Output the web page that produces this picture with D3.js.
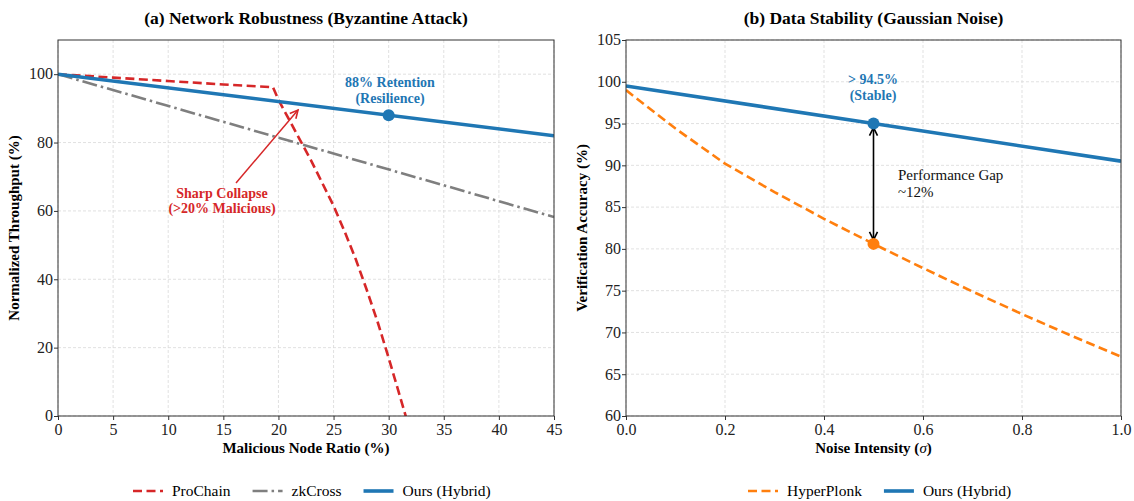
<!DOCTYPE html>
<html>
<head>
<meta charset="utf-8">
<script src="https://cdn.jsdelivr.net/npm/d3@7"></script>
<style>
  body { margin: 0; background: #fff; }
  svg { font-family: "Liberation Serif", "DejaVu Serif", serif; }
</style>
</head>
<body>
<svg class="canvas" width="1134" height="501"></svg>
<script>
// ---- data: panel (a) ----
const ratioTicks = [0, 5, 10, 15, 20, 25, 30, 35, 40, 45];
const throughputTicks = [0, 20, 40, 60, 80, 100];
const proChainX = [0, 5, 10, 15, 19.5, 20, 21, 22, 23, 24, 25, 26, 27, 28, 29, 30, 31, 32];
const proChainY = [100, 99, 98, 97, 96.2, 92.5, 86.5, 80.5, 74.5, 68, 61.5, 54, 46, 37, 27.5, 17, 6, -5];
const zkCrossX = [0, 45];
const zkCrossY = [100, 58.2];
const oursAX = [0, 45];
const oursAY = [100, 82];
const retentionPoint = [30, 88];

// ---- data: panel (b) ----
const noiseTicks = [0, 0.2, 0.4, 0.6, 0.8, 1.0];
const accuracyTicks = [60, 65, 70, 75, 80, 85, 90, 95, 100, 105];
const hyperPlonkX = [0, 0.1, 0.2, 0.3, 0.4, 0.5, 0.6, 0.7, 0.8, 0.9, 1.0];
const hyperPlonkY = [99, 94.4, 90.2, 86.8, 83.6, 80.6, 77.7, 74.9, 72.2, 69.6, 67.1];
const oursBX = [0, 0.5, 1.0];
const oursBY = [99.5, 95, 90.5];
const gapTop = [0.5, 95];
const gapBottom = [0.5, 80.6];

const BLUE = "#1f77b4", RED = "#d62728", GRAY = "#7f7f7f", ORANGE = "#ff7f0e";

const svg = d3.select(".canvas");
const defs = svg.append("defs");

function arrowMarker(id, color) {
  const m = defs.append("marker")
    .attr("id", id)
    .attr("viewBox", "-10 -6 12 12")
    .attr("refX", 0).attr("refY", 0)
    .attr("markerWidth", 12).attr("markerHeight", 12)
    .attr("markerUnits", "userSpaceOnUse")
    .attr("orient", "auto-start-reverse");
  m.append("path")
    .attr("d", "M-8,-4 L0,0 L-8,4")
    .attr("fill", "none")
    .attr("stroke", color)
    .attr("stroke-width", 1.6);
}
arrowMarker("arrRed", RED);
arrowMarker("arrBlack", "#000");

function panel(opt) {
  const g = svg.append("g");
  const x = d3.scaleLinear().domain(opt.xDomain).range([opt.left, opt.right]);
  const y = d3.scaleLinear().domain(opt.yDomain).range([opt.bottom, opt.top]);

  // grid
  g.append("g").selectAll("line").data(opt.xTicks).join("line")
    .attr("x1", d => x(d)).attr("x2", d => x(d))
    .attr("y1", opt.top).attr("y2", opt.bottom)
    .attr("stroke", "#d9d9d9").attr("stroke-width", 0.8).attr("stroke-dasharray", "3,2");
  g.append("g").selectAll("line").data(opt.yTicks).join("line")
    .attr("y1", d => y(d)).attr("y2", d => y(d))
    .attr("x1", opt.left).attr("x2", opt.right)
    .attr("stroke", "#d9d9d9").attr("stroke-width", 0.8).attr("stroke-dasharray", "3,2");

  // clip for series
  defs.append("clipPath").attr("id", opt.id + "clip")
    .append("rect")
    .attr("x", opt.left).attr("y", opt.top)
    .attr("width", opt.right - opt.left).attr("height", opt.bottom - opt.top);
  const plot = g.append("g").attr("clip-path", `url(#${opt.id}clip)`);
  const line = d3.line().x(d => x(d[0])).y(d => y(d[1]));
  opt.series.forEach(s => {
    plot.append("path")
      .datum(d3.zip(s.xs, s.ys))
      .attr("d", line)
      .attr("fill", "none")
      .attr("stroke", s.color)
      .attr("stroke-width", s.width)
      .attr("stroke-dasharray", s.dash || null);
  });

  // axes
  const xAxis = g.append("g").attr("transform", `translate(0,${opt.bottom})`)
    .call(d3.axisBottom(x).tickValues(opt.xTicks).tickFormat(opt.xFormat).tickSizeOuter(0).tickSize(4));
  const yAxis = g.append("g").attr("transform", `translate(${opt.left},0)`)
    .call(d3.axisLeft(y).tickValues(opt.yTicks).tickFormat(d3.format("d")).tickSizeOuter(0).tickSize(4));
  [xAxis, yAxis].forEach(a => {
    a.select(".domain").remove();
    a.selectAll("line").attr("stroke", "#333");
    a.selectAll("text").attr("font-size", 16).attr("fill", "#222")
      .attr("font-family", "Liberation Serif, serif");
  });
  xAxis.selectAll("text").attr("dy", "0.85em").attr("y", 5);
  yAxis.selectAll("text").attr("x", -5).attr("dy", "0.3em");

  // frame
  g.append("rect")
    .attr("x", opt.left).attr("y", opt.top)
    .attr("width", opt.right - opt.left).attr("height", opt.bottom - opt.top)
    .attr("fill", "none").attr("stroke", "#333").attr("stroke-width", 1);

  // title and labels
  const cx = (opt.left + opt.right) / 2;
  g.append("text").attr("x", cx).attr("y", 24).attr("text-anchor", "middle")
    .attr("font-size", 17.5).attr("font-weight", "bold").text(opt.title);
  const xl = g.append("text").attr("x", cx).attr("y", 453).attr("text-anchor", "middle")
    .attr("font-size", 15).attr("font-weight", "bold");
  opt.xLabel(xl);
  g.append("text")
    .attr("transform", `translate(${opt.left - 39},${(opt.top + opt.bottom) / 2}) rotate(-90)`)
    .attr("text-anchor", "middle").attr("font-size", 15).attr("font-weight", "bold")
    .text(opt.yLabel);

  // legend
  let lx = opt.legendX;
  opt.series.forEach(s => {
    g.append("line")
      .attr("x1", lx).attr("x2", lx + 30).attr("y1", 491).attr("y2", 491)
      .attr("stroke", s.color).attr("stroke-width", s.width)
      .attr("stroke-dasharray", s.dash || null);
    const t = g.append("text").attr("x", lx + 39).attr("y", 496)
      .attr("font-size", 15.5).text(s.name);
    lx += 39 + t.node().getComputedTextLength() + 22;
  });

  return { g, x, y };
}

// ---- panel (a) ----
const a = panel({
  id: "a",
  left: 58, right: 554, top: 40, bottom: 416,
  xDomain: [0, 45], yDomain: [0, 110],
  xTicks: ratioTicks, yTicks: throughputTicks,
  xFormat: d3.format("d"),
  title: "(a) Network Robustness (Byzantine Attack)",
  xLabel: t => t.text("Malicious Node Ratio (%)"),
  yLabel: "Normalized Throughput (%)",
  legendX: 133,
  series: [
    { name: "ProChain", xs: proChainX, ys: proChainY, color: RED, width: 2.6, dash: "9,4.5" },
    { name: "zkCross", xs: zkCrossX, ys: zkCrossY, color: GRAY, width: 2.6, dash: "15,4,2.5,4" },
    { name: "Ours (Hybrid)", xs: oursAX, ys: oursAY, color: BLUE, width: 3.6 }
  ]
});
a.g.append("circle")
  .attr("cx", a.x(retentionPoint[0])).attr("cy", a.y(retentionPoint[1]))
  .attr("r", 6).attr("fill", BLUE);
a.g.append("text").attr("text-anchor", "middle").attr("font-size", 14)
  .attr("font-weight", "bold").attr("fill", BLUE)
  .selectAll("tspan").data(["88% Retention", "(Resilience)"]).join("tspan")
  .attr("x", 390).attr("y", (d, i) => 87 + i * 16).text(d => d);
a.g.append("line")
  .attr("x1", 236).attr("y1", 183).attr("x2", 298).attr("y2", 110)
  .attr("stroke", RED).attr("stroke-width", 1.5)
  .attr("marker-end", "url(#arrRed)");
a.g.append("text").attr("text-anchor", "middle").attr("font-size", 14)
  .attr("font-weight", "bold").attr("fill", RED)
  .selectAll("tspan").data(["Sharp Collapse", "(>20% Malicious)"]).join("tspan")
  .attr("x", 222).attr("y", (d, i) => 198 + i * 15).text(d => d);

// ---- panel (b) ----
const b = panel({
  id: "b",
  left: 626, right: 1121, top: 40, bottom: 416,
  xDomain: [0, 1], yDomain: [60, 105],
  xTicks: noiseTicks, yTicks: accuracyTicks,
  xFormat: d3.format(".1f"),
  title: "(b) Data Stability (Gaussian Noise)",
  xLabel: t => {
    t.append("tspan").text("Noise Intensity (");
    t.append("tspan").attr("font-style", "italic").attr("font-weight", "normal").text("σ");
    t.append("tspan").text(")");
  },
  yLabel: "Verification Accuracy (%)",
  legendX: 748,
  series: [
    { name: "HyperPlonk", xs: hyperPlonkX, ys: hyperPlonkY, color: ORANGE, width: 2.6, dash: "9,4.5" },
    { name: "Ours (Hybrid)", xs: oursBX, ys: oursBY, color: BLUE, width: 3.6 }
  ]
});
b.g.append("line")
  .attr("x1", b.x(gapTop[0])).attr("y1", b.y(gapTop[1]) + 4)
  .attr("x2", b.x(gapBottom[0])).attr("y2", b.y(gapBottom[1]) - 4)
  .attr("stroke", "#000").attr("stroke-width", 1.6)
  .attr("marker-start", "url(#arrBlack)").attr("marker-end", "url(#arrBlack)");
b.g.append("circle")
  .attr("cx", b.x(gapTop[0])).attr("cy", b.y(gapTop[1])).attr("r", 6).attr("fill", BLUE);
b.g.append("circle")
  .attr("cx", b.x(gapBottom[0])).attr("cy", b.y(gapBottom[1])).attr("r", 6).attr("fill", ORANGE);
b.g.append("text").attr("text-anchor", "middle").attr("font-size", 14)
  .attr("font-weight", "bold").attr("fill", BLUE)
  .selectAll("tspan").data(["> 94.5%", "(Stable)"]).join("tspan")
  .attr("x", 873).attr("y", (d, i) => 84 + i * 16).text(d => d);
b.g.append("text").attr("font-size", 15).attr("fill", "#111")
  .selectAll("tspan").data(["Performance Gap", "~12%"]).join("tspan")
  .attr("x", 898).attr("y", (d, i) => 180 + i * 17).text(d => d);
</script>
</body>
</html>
